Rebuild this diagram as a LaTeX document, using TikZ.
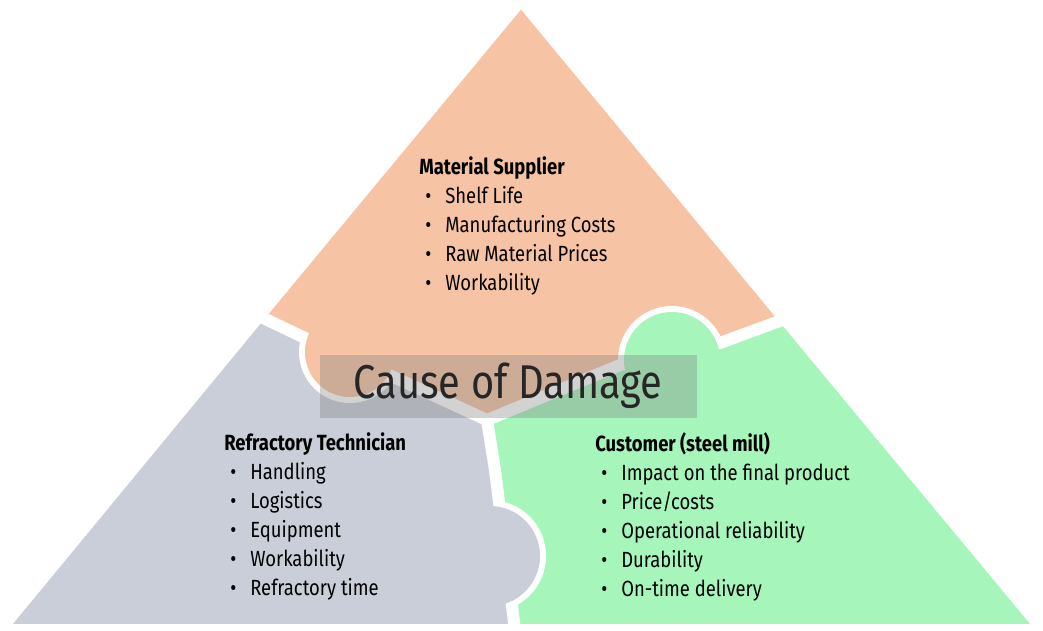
\documentclass[tikz,border=0pt]{standalone}
\usepackage{fontspec}
\setmainfont{Fira Sans}[FakeStretch=0.84]
\definecolor{supplier}{HTML}{F6C3A4}
\definecolor{techgray}{HTML}{C9CED9}
\definecolor{millgreen}{HTML}{A6F5BB}
\newcommand\itm[1]{\makebox[0.52cm][l]{\hspace{0.12cm}\textbullet}#1}
\newcommand\supppoly{(521,0) -- (785,319) -- (720,343) -- (620,365) -- (487,420) -- (400,380) -- (305,338) -- (259,316) -- cycle}
\newcommand\techpoly{(259,316) -- (305,338) -- (400,380) -- (487,420) -- (495,470) -- (515,630) -- (0,630) -- cycle}
\newcommand\millpoly{(487,420) -- (620,365) -- (720,343) -- (785,319) -- (1043,630) -- (515,630) -- (495,470) -- cycle}
\tikzset{
  gap/.style={draw=white, line width=0.24cm, line join=round},
  group/.style={anchor=north west, inner sep=0pt, font=\fontsize{12.5}{16.5}\selectfont, align=left}
}
\begin{document}
\begin{tikzpicture}[x=0.02cm, y=-0.02cm]
    \useasboundingbox (0,0) rectangle (1043,630);

    % pieces
    \fill[supplier] \supppoly;
    \fill[techgray] \techpoly;
    \fill[millgreen] \millpoly;
    \draw[gap] \supppoly \techpoly \millpoly;

    % knobs
    \begin{scope}[even odd rule]
        \clip (-20,-20) rectangle (1063,650) \supppoly;
        \draw[gap] (350,352) circle (45);
    \end{scope}
    \fill[supplier] (350,352) circle (45);
    \begin{scope}[even odd rule]
        \clip (-20,-20) rectangle (1063,650) \millpoly;
        \draw[gap] (672,360) circle (48);
    \end{scope}
    \fill[millgreen] (672,360) circle (48);
    \begin{scope}[even odd rule]
        \clip (-20,-20) rectangle (1063,650) \techpoly;
        \draw[gap] (490,556) circle (50);
    \end{scope}
    \fill[techgray] (490,556) circle (50);

    % centre label
    \fill[gray, opacity=0.35] (320,355) rectangle (697,418);
    \node[font=\fontsize{27}{30}\selectfont, text=black!85] (cause) at (508,386) {Cause of Damage};

    \node[group] (supp) at (419,156) {\textbf{Material Supplier}\\
        \itm{Shelf Life}\\ \itm{Manufacturing Costs}\\ \itm{Raw Material Prices}\\ \itm{Workability}};
    \node[group] (tech) at (224,432) {\textbf{Refractory Technician}\\
        \itm{Handling}\\ \itm{Logistics}\\ \itm{Equipment}\\ \itm{Workability}\\ \itm{Refractory time}};
    \node[group] (mill) at (595,432) {\textbf{Customer (steel mill)}\\
        \itm{Impact on the final product}\\ \itm{Price/costs}\\ \itm{Operational reliability}\\ \itm{Durability}\\ \itm{On-time delivery}};
\end{tikzpicture}
\end{document}
